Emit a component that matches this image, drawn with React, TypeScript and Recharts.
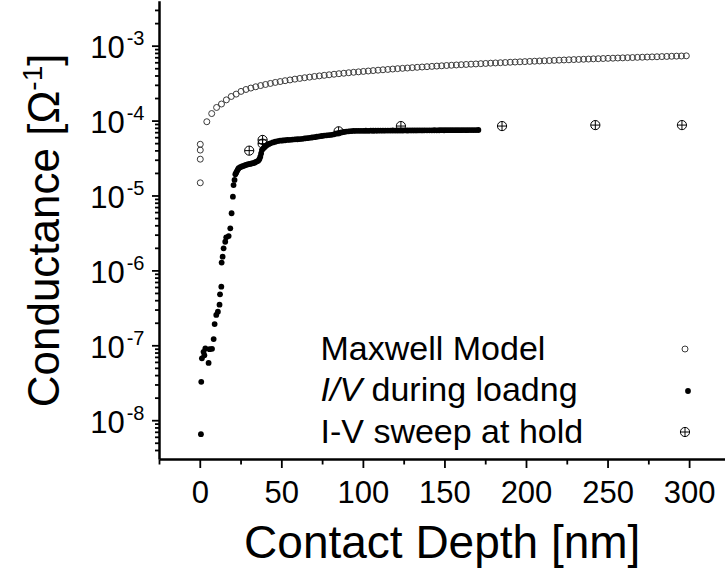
import React from 'react';
import { ScatterChart, Scatter, XAxis, YAxis, Legend } from 'recharts';

const FONT = "'Liberation Sans', Arial, Helvetica, sans-serif";

// Maxwell model (open circles)
const maxwellDepth = [
  0, 0, 0, 0, 4, 7, 10, 13, 16, 19, 22, 25, 28, 31, 34, 37, 40, 43, 46, 49, 52, 55, 58, 61, 64, 67, 70, 73, 76,
  79, 82, 85, 88, 91, 94, 97, 100, 103, 106, 109, 112, 115, 118, 121, 124, 127, 130, 133, 136, 139, 142, 145,
  148, 151, 154, 157, 160, 163, 166, 169, 172, 175, 178, 181, 184, 187, 190, 193, 196, 199, 202, 205, 208, 211,
  214, 217, 220, 223, 226, 229, 232, 235, 238, 241, 244, 247, 250, 253, 256, 259, 262, 265, 268, 271, 274, 277,
  280, 283, 286, 289, 292, 295, 298,
];
const maxwellG = [
  1.5e-5, 3.1e-5, 4.1e-5, 4.9e-5, 9.8e-5, 1.26e-4, 1.52e-4, 1.69e-4, 1.92e-4, 2.13e-4, 2.29e-4, 2.49e-4, 2.64e-4,
  2.76e-4, 2.87e-4, 2.98e-4, 3.08e-4, 3.18e-4, 3.28e-4, 3.37e-4, 3.46e-4, 3.54e-4, 3.63e-4, 3.71e-4, 3.79e-4,
  3.86e-4, 3.94e-4, 4.01e-4, 4.08e-4, 4.15e-4, 4.22e-4, 4.29e-4, 4.35e-4, 4.42e-4, 4.48e-4, 4.54e-4, 4.6e-4,
  4.66e-4, 4.72e-4, 4.78e-4, 4.84e-4, 4.89e-4, 4.95e-4, 5.01e-4, 5.06e-4, 5.11e-4, 5.17e-4, 5.22e-4, 5.27e-4,
  5.32e-4, 5.37e-4, 5.42e-4, 5.47e-4, 5.52e-4, 5.56e-4, 5.61e-4, 5.66e-4, 5.7e-4, 5.75e-4, 5.79e-4, 5.84e-4,
  5.88e-4, 5.93e-4, 5.97e-4, 6.01e-4, 6.05e-4, 6.1e-4, 6.14e-4, 6.18e-4, 6.22e-4, 6.26e-4, 6.3e-4, 6.34e-4,
  6.38e-4, 6.42e-4, 6.46e-4, 6.5e-4, 6.54e-4, 6.58e-4, 6.62e-4, 6.65e-4, 6.69e-4, 6.73e-4, 6.77e-4, 6.8e-4,
  6.84e-4, 6.88e-4, 6.91e-4, 6.95e-4, 6.98e-4, 7.02e-4, 7.05e-4, 7.09e-4, 7.12e-4, 7.16e-4, 7.19e-4, 7.22e-4,
  7.26e-4, 7.29e-4, 7.33e-4, 7.36e-4, 7.39e-4, 7.43e-4,
];

// I/V during loading (filled dots)
const loadingDepth = [
  0.4, 0.6, 1.0, 2.0, 2.5, 3.1, 5.1, 5.7, 7.2, 8.2, 8.8, 9.8, 10.8, 11.8, 12.1, 12.9, 13.1, 13.7, 14.3, 15.3,
  15.9, 17.4, 18.4, 19.2, 20.0, 20.4, 21.0, 21.5, 22.0, 22.5, 23.0, 23.5, 24.5, 25.5, 26.5, 27.5, 28.5, 29.5,
  30.5, 31.5, 32.5, 33.5, 34.5, 35.5, 36.2, 36.8, 37.3, 37.8, 38.5, 39.2, 40.0, 41.0, 42.0, 43.0, 44.5, 46.0,
  47.5, 49.0, 50.5, 52.0, 53.5, 55.0, 56.5, 58.0, 59.5, 61.0, 62.5, 64.0, 65.5, 67.0, 68.5, 70.0, 71.5, 73.0,
  74.5, 76.0, 77.5, 79.0, 80.5, 82.0, 83.5, 85.0, 86.5, 88.0, 89.5, 91.0, 92.5, 94.0, 95.5, 97.0, 98.5, 100,
  101.5, 103, 104.5, 106, 107.5, 109, 110.5, 112, 113.5, 115, 116.5, 118, 119.5, 121, 122.5, 124, 125.5, 127,
  128.5, 130, 131.5, 133, 134.5, 136, 137.5, 139, 140.5, 142, 143.5, 145, 146.5, 148, 149.5, 151, 152.5, 154,
  155.5, 157, 158.5, 160, 161.5, 163, 164.5, 166, 167.5, 169, 170.5,
];
const loadingG = [
  6.6e-9, 3.3e-8, 6.8e-8, 8.3e-8, 7.5e-8, 9.2e-8, 5.9e-8, 9.0e-8, 9.1e-8, 1.23e-7, 1.95e-7, 2.58e-7, 2.85e-7,
  3.54e-7, 4.87e-7, 6.15e-7, 1.29e-6, 1.55e-6, 2.0e-6, 2.45e-6, 2.81e-6, 2.92e-6, 3.7e-6, 5.88e-6, 9.8e-6,
  1.4e-5, 1.64e-5, 1.95e-5, 2.05e-5, 2.15e-5, 2.25e-5, 2.35e-5, 2.42e-5, 2.48e-5, 2.52e-5, 2.58e-5, 2.62e-5,
  2.66e-5, 2.68e-5, 2.72e-5, 2.74e-5, 2.8e-5, 2.88e-5, 2.95e-5, 3.1e-5, 3.35e-5, 3.7e-5, 4.1e-5, 4.3e-5,
  4.45e-5, 4.6e-5, 4.8e-5, 4.95e-5, 5.05e-5, 5.18e-5, 5.3e-5, 5.4e-5, 5.47e-5, 5.5e-5, 5.55e-5, 5.6e-5,
  5.62e-5, 5.66e-5, 5.7e-5, 5.72e-5, 5.75e-5, 5.8e-5, 5.86e-5, 5.92e-5, 5.98e-5, 6.04e-5, 6.1e-5, 6.18e-5,
  6.25e-5, 6.32e-5, 6.4e-5, 6.46e-5, 6.5e-5, 6.56e-5, 6.65e-5, 6.8e-5, 6.95e-5, 7.05e-5, 7.15e-5, 7.25e-5,
  7.3e-5, 7.35e-5, 7.38e-5, 7.4e-5, 7.4e-5, 7.42e-5, 7.41e-5, 7.43e-5, 7.42e-5, 7.44e-5, 7.43e-5, 7.45e-5,
  7.44e-5, 7.46e-5, 7.45e-5, 7.46e-5, 7.47e-5, 7.46e-5, 7.48e-5, 7.47e-5, 7.48e-5, 7.49e-5, 7.48e-5, 7.5e-5,
  7.49e-5, 7.5e-5, 7.51e-5, 7.5e-5, 7.51e-5, 7.52e-5, 7.51e-5, 7.52e-5, 7.53e-5, 7.52e-5, 7.53e-5, 7.54e-5,
  7.53e-5, 7.54e-5, 7.55e-5, 7.54e-5, 7.55e-5, 7.56e-5, 7.55e-5, 7.56e-5, 7.57e-5, 7.56e-5, 7.57e-5, 7.58e-5,
  7.57e-5, 7.58e-5, 7.59e-5, 7.58e-5, 7.59e-5, 7.6e-5,
];

// I-V sweep at hold (crossed circles)
const sweepDepth = [30.0, 38.2, 38.2, 84.8, 123.0, 185.0, 242.2, 295.3];
const sweepG = [4.03e-5, 5.6e-5, 5.0e-5, 7.3e-5, 8.58e-5, 8.58e-5, 8.84e-5, 8.84e-5];

const legendLabels = ['Maxwell Model', 'I/V during loadng', 'I-V sweep at hold'];

const xMajorTicks = [0, 50, 100, 150, 200, 250, 300];
const xMinorTicks = [-25, 25, 75, 125, 175, 225, 275];
const yMajorTicks = [1e-8, 1e-7, 1e-6, 1e-5, 1e-4, 1e-3];
const yMinorMantissas = [2, 3, 4, 5, 6, 7, 8, 9];

const xDomain = [-25, 321.7];
const yDomain = [Math.pow(10, -8.518), Math.pow(10, -2.401)];

const zip = (xs: number[], ys: number[]) =>
  xs.slice(0, Math.min(xs.length, ys.length)).map((x, i) => ({ x, y: ys[i] }));

const maxwellData = zip(maxwellDepth, maxwellG);
const loadingData = zip(loadingDepth, loadingG);
const sweepData = zip(sweepDepth, sweepG);

const xTicks = [...xMinorTicks, ...xMajorTicks].sort((a, b) => a - b);
const yTicks = [
  ...yMajorTicks,
  ...[1e-9, ...yMajorTicks].flatMap((d) => yMinorMantissas.map((m) => m * d)),
]
  .filter((v) => v >= yDomain[0] && v <= yDomain[1])
  .sort((a, b) => a - b);

const OpenCircle = (p: any) => (
  <circle cx={p.cx} cy={p.cy} r={3} fill="none" stroke="#3a3a3a" strokeWidth={1} />
);
const FilledDot = (p: any) => <circle cx={p.cx} cy={p.cy} r={2.9} fill="#000" />;
const CrossCircle = (p: any) => (
  <g stroke="#000" strokeWidth={1} fill="none">
    <circle cx={p.cx} cy={p.cy} r={4.6} />
    <line x1={p.cx - 4.6} x2={p.cx + 4.6} y1={p.cy} y2={p.cy} />
    <line x1={p.cx} x2={p.cx} y1={p.cy - 4.6} y2={p.cy + 4.6} />
  </g>
);

const XTick = (props: any) => {
  const { x, y, payload } = props;
  const major = payload.value % 50 === 0;
  return (
    <g>
      <line x1={x} x2={x} y1={y} y2={y + (major ? 8.5 : 5)} stroke="#000" strokeWidth={1.8} />
      {major && (
        <text x={x} y={y + 43} textAnchor="middle" fontSize={31} fontFamily={FONT} fill="#000">
          {payload.value}
        </text>
      )}
    </g>
  );
};

const YTick = (props: any) => {
  const { x, y, payload } = props;
  const e = Math.log10(payload.value);
  const major = Math.abs(e - Math.round(e)) < 1e-6;
  return (
    <g>
      <line x1={x} x2={x - (major ? 7.5 : 4.5)} y1={y} y2={y} stroke="#000" strokeWidth={1.8} />
      {major && (
        <text x={x - 15} y={y + 12} textAnchor="end" fontSize={31} fontFamily={FONT} fill="#000">
          10
          <tspan fontSize={20} dy={-13} dx={2}>
            {Math.round(e)}
          </tspan>
        </text>
      )}
    </g>
  );
};

const XTitle = (props: any) => {
  const vb = props.viewBox || {};
  return (
    <text x={vb.x + vb.width / 2} y={558} textAnchor="middle" fontSize={46} fontFamily={FONT} fill="#000">
      Contact Depth [nm]
    </text>
  );
};

const YTitle = (props: any) => {
  const vb = props.viewBox || {};
  const cx = 59;
  const cy = vb.y + vb.height / 2;
  return (
    <text
      x={cx}
      y={cy}
      transform={`rotate(-90, ${cx}, ${cy})`}
      textAnchor="middle"
      fontSize={44}
      fontFamily={FONT}
      fill="#000"
    >
      Conductance [Ω
      <tspan fontSize={28} dy={-17}>
        -1
      </tspan>
      <tspan dy={17}>]</tspan>
    </text>
  );
};

const legendSymbols = [
  <svg width={20} height={20} key="m" style={{ display: 'block' }}>
    <OpenCircle cx={10} cy={10} />
  </svg>,
  <svg width={20} height={20} key="l" style={{ display: 'block' }}>
    <FilledDot cx={13} cy={10} />
  </svg>,
  <svg width={20} height={20} key="s" style={{ display: 'block' }}>
    <CrossCircle cx={10} cy={10} />
  </svg>,
];

const renderLabel = (label: string) => {
  if (label.startsWith('I/V ')) {
    return (
      <>
        <i>I/V</i>
        {label.slice(3)}
      </>
    );
  }
  return label;
};

const LegendBox = () => (
  <div style={{ fontFamily: FONT, fontSize: 34, color: '#000' }}>
    {legendLabels.map((label, i) => (
      <div key={label} style={{ position: 'relative', height: 41.7, lineHeight: '41.7px', whiteSpace: 'nowrap' }}>
        {renderLabel(label)}
        <div style={{ position: 'absolute', left: 354.5, top: 11.5, lineHeight: 0 }}>{legendSymbols[i]}</div>
      </div>
    ))}
  </div>
);

export default function App() {
  return (
    <div style={{ position: 'absolute', left: 0, top: 0, width: 725, height: 574, background: '#fff' }}>
      <ScatterChart width={725} height={574} margin={{ top: 1.3, right: 0, bottom: 0, left: 0 }}>
        <XAxis
          xAxisId="top"
          orientation="top"
          type="number"
          dataKey="x"
          domain={xDomain}
          allowDataOverflow
          height={0}
          tick={false}
          tickLine={false}
          axisLine={{ stroke: '#000', strokeWidth: 2.5 }}
        />
        <XAxis
          type="number"
          dataKey="x"
          domain={xDomain}
          allowDataOverflow
          ticks={xTicks}
          interval={0}
          tickSize={0}
          tickMargin={0}
          tickLine={false}
          tick={<XTick />}
          height={114.5}
          axisLine={{ stroke: '#000', strokeWidth: 2.5 }}
          label={<XTitle />}
        />
        <YAxis
          type="number"
          dataKey="y"
          scale="log"
          domain={yDomain}
          allowDataOverflow
          ticks={yTicks}
          interval={0}
          tickSize={0}
          tickMargin={0}
          tickLine={false}
          tick={<YTick />}
          width={159.5}
          axisLine={{ stroke: '#000', strokeWidth: 2.5 }}
          label={<YTitle />}
        />
        <Legend
          layout="vertical"
          align="center"
          verticalAlign="middle"
          content={<LegendBox />}
          wrapperStyle={{ position: 'absolute', left: 320.5, top: 327.5, width: 400, height: 126 }}
        />
        <Scatter name="Maxwell Model" data={maxwellData} shape={<OpenCircle />} isAnimationActive={false} />
        <Scatter name="I/V during loadng" data={loadingData} shape={<FilledDot />} isAnimationActive={false} />
        <Scatter name="I-V sweep at hold" data={sweepData} shape={<CrossCircle />} isAnimationActive={false} />
      </ScatterChart>
    </div>
  );
}
